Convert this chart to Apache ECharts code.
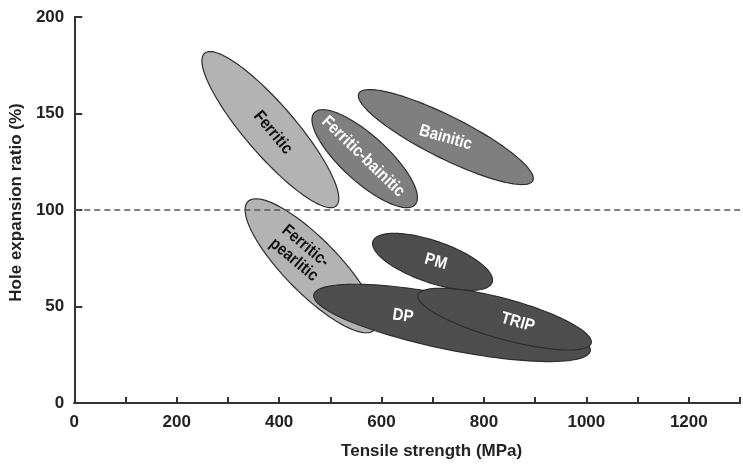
<!DOCTYPE html>
<html>
<head>
<meta charset="utf-8">
<script src="https://cdn.jsdelivr.net/npm/echarts@6/dist/echarts.min.js"></script>
<style>
  html, body { margin: 0; padding: 0; background: #fff; }
  #chart { width: 743px; height: 466px; }
</style>
</head>
<body>
<div id="chart"></div>
<script>
// steel grades: each region is an ellipse given by the two ends of its long axis
const grades = ['Ferritic', 'Ferritic-bainitic', 'Bainitic', 'Ferritic-pearlitic', 'PM', 'DP', 'TRIP'];
const labelText = ['Ferritic', 'Ferritic-bainitic', 'Bainitic', 'Ferritic-\npearlitic', 'PM', 'DP', 'TRIP'];
const startStrength = [254.5, 468.7, 555.7, 339.3, 583.3, 467.8, 671.2];   // MPa
const startRatio = [181.2, 150.4, 160.4, 104.4, 83.8, 56.1, 55.9];        // %
const endStrength = [511.3, 665.6, 895.4, 585.8, 816.0, 1007.5, 1009.4];
const endRatio = [102.1, 102.8, 115.2, 37.8, 62.5, 26.9, 31.0];
const halfWidth = [13.0, 11.9, 10.9, 14.0, 10.8, 14.0, 10.4];   // short half-axis, in % units
const labelStrength = [388, 564, 725, 440, 706, 642, 866];
const labelRatio = [140.1, 127.7, 137.5, 77.8, 73.2, 45.1, 41.8];
const xTicks = [0, 1300, 100];
const yTicks = [0, 200, 50];
const referenceRatio = 100;

const shade = {
  'Ferritic': '#b3b3b3', 'Ferritic-pearlitic': '#b3b3b3',
  'Ferritic-bainitic': '#7f7f7f', 'Bainitic': '#7f7f7f',
  'PM': '#4e4e4e', 'DP': '#4e4e4e', 'TRIP': '#4e4e4e'
};
const textTilt = [50, 44, 16, 40, 15, 8, 16]; // degrees, clockwise
const FONT = '"Liberation Sans", Arial, sans-serif';

const chart = echarts.init(document.getElementById('chart'));

const rows = grades.map((g, i) => [startStrength[i], startRatio[i], endStrength[i], endRatio[i],
  halfWidth[i], labelStrength[i], labelRatio[i], i]);

function renderEllipse(params, api) {
  const i = api.value(7);
  const p1 = api.coord([api.value(0), api.value(1)]);
  const p2 = api.coord([api.value(2), api.value(3)]);
  const cx = (p1[0] + p2[0]) / 2, cy = (p1[1] + p2[1]) / 2;
  const a = Math.hypot(p2[0] - p1[0], p2[1] - p1[1]) / 2;
  const b = api.size([0, api.value(4)])[1];
  const ang = Math.atan2(p2[1] - p1[1], p2[0] - p1[0]);
  const pts = [];
  for (let k = 0; k < 120; k++) {
    const t = k / 120 * Math.PI * 2;
    const ex = a * Math.cos(t), ey = b * Math.sin(t);
    pts.push([cx + ex * Math.cos(ang) - ey * Math.sin(ang), cy + ex * Math.sin(ang) + ey * Math.cos(ang)]);
  }
  const lp = api.coord([api.value(5), api.value(6)]);
  const dark = shade[grades[i]] !== '#b3b3b3';
  return {
    type: 'group',
    children: [{
      type: 'polygon',
      shape: { points: pts },
      style: { fill: shade[grades[i]], stroke: '#2e2e2e', lineWidth: 1.2 }
    }, {
      type: 'text',
      x: lp[0], y: lp[1],
      rotation: -textTilt[i] * Math.PI / 180,
      scaleX: 0.88,
      style: {
        text: labelText[i],
        fill: dark ? '#fff' : '#111',
        font: 'bold 17px ' + FONT,
        align: 'center', verticalAlign: 'middle',
        textAlign: 'center', textVerticalAlign: 'middle',
        lineHeight: 18
      }
    }]
  };
}

const axisFont = { fontFamily: FONT, fontWeight: 'bold', fontSize: 17, color: '#222' };

chart.setOption({
  animation: false,
  grid: { left: 73, right: -7, top: 17, bottom: 63 },
  xAxis: [{
    type: 'value', min: xTicks[0], max: xTicks[1], interval: xTicks[2],
    name: 'Tensile strength (MPa)', nameLocation: 'middle', nameGap: 40,
    nameTextStyle: Object.assign({ padding: [0, 0, 0, 49] }, axisFont),
    axisLine: { show: true, onZero: false, lineStyle: { color: '#333', width: 2 } },
    axisTick: { show: true, inside: true, length: 6, lineStyle: { color: '#333', width: 2 } },
    axisLabel: Object.assign({ interval: 1, margin: 11, formatter: v => v % 200 === 0 ? v : '' }, axisFont),
    splitLine: { show: false }
  }, {
    type: 'value', position: 'top', min: xTicks[0], max: xTicks[1],
    axisLine: { show: true, lineStyle: { color: '#333', width: 2 } },
    axisTick: { show: false }, axisLabel: { show: false }, splitLine: { show: false }
  }],
  yAxis: {
    type: 'value', min: yTicks[0], max: yTicks[1], interval: yTicks[2],
    name: 'Hole expansion ratio (%)', nameLocation: 'middle', nameGap: 46,
    nameTextStyle: Object.assign({ padding: [0, 0, 0, 15] }, axisFont),
    axisLine: { show: true, lineStyle: { color: '#333', width: 2 } },
    axisTick: { show: true, inside: true, length: 8, lineStyle: { color: '#333', width: 2 } },
    axisLabel: Object.assign({ margin: 10 }, axisFont),
    splitLine: { show: false }
  },
  series: [{
    type: 'line', data: [], silent: true,
    markLine: {
      symbol: 'none', silent: true, label: { show: false },
      lineStyle: { type: [6, 4], color: '#555', width: 1.5 },
      data: [{ yAxis: referenceRatio }]
    }
  }, {
    type: 'custom', renderItem: renderEllipse, data: rows, z: 3,
    encode: { x: [0, 2], y: [1, 3] }, clip: false
  }]
});
</script>
</body>
</html>
